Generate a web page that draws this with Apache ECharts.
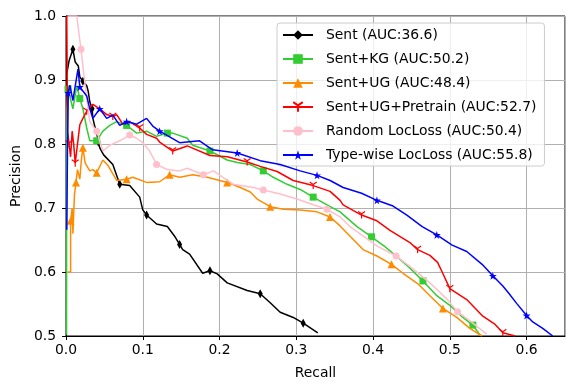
<!DOCTYPE html>
<html>
<head>
<meta charset="utf-8">
<script src="https://cdn.jsdelivr.net/npm/echarts@6/dist/echarts.min.js"></script>
<style>
  html, body { margin: 0; padding: 0; background: #fff; }
  #chart { width: 566px; height: 385px; }
</style>
</head>
<body>
<div id="chart"></div>
<script>
// [recall, precision]
const sent = [
  [0.001, 0.91], [0.004, 0.93], [0.009, 0.948], [0.012, 0.928], [0.016, 0.922],
  [0.018, 0.905], [0.022, 0.898], [0.027, 0.891], [0.029, 0.882], [0.031, 0.866],
  [0.034, 0.855], [0.035, 0.84], [0.038, 0.825], [0.04, 0.818], [0.042, 0.803],
  [0.044, 0.794], [0.049, 0.783], [0.061, 0.768], [0.07, 0.737], [0.083, 0.735],
  [0.096, 0.717], [0.1, 0.697], [0.105, 0.689], [0.118, 0.675], [0.132, 0.671],
  [0.142, 0.655], [0.148, 0.643], [0.152, 0.635], [0.161, 0.628], [0.178, 0.598],
  [0.1875, 0.602], [0.197, 0.597], [0.21, 0.583], [0.236, 0.571], [0.253, 0.566],
  [0.266, 0.552], [0.279, 0.537], [0.296, 0.529], [0.309, 0.52], [0.328, 0.505]
]
const sentKg = [
  [0.0007, 0.502], [0.001, 0.855], [0.0026, 0.886], [0.005, 0.886], [0.009, 0.855],
  [0.014, 0.891], [0.018, 0.871], [0.022, 0.855], [0.027, 0.825], [0.031, 0.805],
  [0.04, 0.805], [0.048, 0.82], [0.057, 0.829], [0.066, 0.835], [0.079, 0.829],
  [0.092, 0.817], [0.105, 0.82], [0.118, 0.812], [0.132, 0.817], [0.139, 0.817],
  [0.158, 0.809], [0.165, 0.798], [0.1875, 0.789], [0.21, 0.775], [0.223, 0.771],
  [0.24, 0.768], [0.257, 0.758], [0.27, 0.748], [0.288, 0.737], [0.305, 0.729],
  [0.322, 0.717], [0.34, 0.705], [0.357, 0.694], [0.379, 0.671], [0.398, 0.655],
  [0.415, 0.64], [0.432, 0.623], [0.448, 0.606], [0.465, 0.586], [0.483, 0.563],
  [0.5, 0.548], [0.517, 0.529], [0.53, 0.517], [0.539, 0.502]
]
const sentUg = [
  [0.002, 0.6], [0.006, 0.6], [0.006, 0.68], [0.008, 0.7], [0.009, 0.66],
  [0.011, 0.72], [0.013, 0.74], [0.015, 0.76], [0.018, 0.745], [0.02, 0.775],
  [0.022, 0.794], [0.025, 0.77], [0.031, 0.758], [0.035, 0.76], [0.04, 0.755],
  [0.048, 0.775], [0.055, 0.766], [0.066, 0.743], [0.079, 0.745], [0.087, 0.748],
  [0.105, 0.74], [0.122, 0.741], [0.135, 0.752], [0.148, 0.748], [0.165, 0.752],
  [0.184, 0.748], [0.21, 0.74], [0.227, 0.732], [0.24, 0.725], [0.249, 0.714],
  [0.266, 0.702], [0.283, 0.698], [0.305, 0.697], [0.327, 0.694], [0.344, 0.686],
  [0.357, 0.672], [0.387, 0.635], [0.405, 0.625], [0.424, 0.612], [0.439, 0.598],
  [0.458, 0.582], [0.474, 0.563], [0.491, 0.543], [0.509, 0.529], [0.526, 0.512],
  [0.542, 0.5]
]
const sentUgPretrain = [
  [0.001, 1.0], [0.002, 0.82], [0.004, 0.8], [0.006, 0.78], [0.008, 0.82],
  [0.01, 0.8], [0.012, 0.77], [0.015, 0.8], [0.018, 0.83], [0.022, 0.84],
  [0.027, 0.851], [0.035, 0.862], [0.044, 0.855], [0.053, 0.846], [0.061, 0.843],
  [0.066, 0.846], [0.074, 0.831], [0.083, 0.835], [0.096, 0.825], [0.105, 0.815],
  [0.118, 0.809], [0.122, 0.803], [0.139, 0.789], [0.158, 0.797], [0.1875, 0.782],
  [0.21, 0.78], [0.236, 0.772], [0.253, 0.765], [0.275, 0.757], [0.296, 0.743],
  [0.322, 0.735], [0.344, 0.726], [0.357, 0.712], [0.361, 0.705], [0.385, 0.689],
  [0.405, 0.68], [0.422, 0.665], [0.448, 0.646], [0.458, 0.635], [0.474, 0.626],
  [0.484, 0.615], [0.49, 0.6], [0.5, 0.574], [0.522, 0.557], [0.543, 0.531],
  [0.559, 0.518], [0.569, 0.505], [0.585, 0.5]
]
const randomLoc = [
  [0.003, 1.0], [0.014, 1.0], [0.0195, 0.948], [0.021, 0.932], [0.027, 0.871],
  [0.031, 0.835], [0.04, 0.82], [0.048, 0.789], [0.057, 0.798], [0.07, 0.805],
  [0.083, 0.814], [0.092, 0.809], [0.1, 0.802], [0.109, 0.789], [0.118, 0.768],
  [0.132, 0.76], [0.148, 0.758], [0.158, 0.762], [0.179, 0.752], [0.192, 0.758],
  [0.218, 0.737], [0.244, 0.732], [0.257, 0.728], [0.279, 0.722], [0.301, 0.714],
  [0.322, 0.705], [0.34, 0.698], [0.357, 0.686], [0.37, 0.671], [0.406, 0.64],
  [0.43, 0.625], [0.452, 0.605], [0.474, 0.583], [0.496, 0.558], [0.51, 0.538],
  [0.53, 0.52], [0.548, 0.503]
]
const typeWiseLoc = [
  [0.001, 0.666], [0.002, 0.8], [0.003, 0.88], [0.005, 0.892], [0.009, 0.868],
  [0.0156, 0.917], [0.018, 0.889], [0.027, 0.875], [0.031, 0.855], [0.035, 0.84],
  [0.044, 0.855], [0.053, 0.84], [0.061, 0.845], [0.07, 0.829], [0.079, 0.835],
  [0.092, 0.831], [0.105, 0.84], [0.113, 0.828], [0.122, 0.82], [0.148, 0.802],
  [0.174, 0.805], [0.191, 0.791], [0.223, 0.786], [0.253, 0.774], [0.279, 0.768],
  [0.305, 0.758], [0.327, 0.751], [0.344, 0.743], [0.361, 0.732], [0.385, 0.723],
  [0.405, 0.712], [0.426, 0.703], [0.444, 0.689], [0.464, 0.671], [0.483, 0.658],
  [0.503, 0.642], [0.522, 0.632], [0.542, 0.612], [0.556, 0.594], [0.569, 0.578],
  [0.576, 0.568], [0.587, 0.551], [0.6, 0.532], [0.608, 0.522], [0.621, 0.512],
  [0.634, 0.5]
]

const names = [
  'Sent (AUC:36.6)',
  'Sent+KG (AUC:50.2)',
  'Sent+UG (AUC:48.4)',
  'Sent+UG+Pretrain (AUC:52.7)',
  'Random LocLoss (AUC:50.4)',
  'Type-wise LocLoss (AUC:55.8)'
]
const colors = ['#000000', '#32cd32', '#ff8c00', '#ff0000', '#ffc0cb', '#0000ff']

const star = 'path://M50,0 L61,35 L98,35 L68,57 L79,91 L50,70 L21,91 L32,57 L2,35 L39,35 Z'
const triDown = 'path://M5,5 L5,11 M5,5 L0,2 M5,5 L10,2'
const markers = [
  { symbol: 'diamond', size: [5, 9] },
  { symbol: 'rect', size: 7 },
  { symbol: 'triangle', size: 8 },
  { symbol: triDown, size: 7 },
  { symbol: 'circle', size: 7 },
  { symbol: star, size: 8 }
]
const allData = [sent, sentKg, sentUg, sentUgPretrain, randomLoc, typeWiseLoc]

const font = 'DejaVu Sans'
const chart = echarts.init(document.getElementById('chart'))

const series = allData.map((data, i) => ({
  name: names[i],
  type: 'line',
  data: data,
  showSymbol: true,
  showAllSymbol: true,
  symbol: markers[i].symbol,
  symbolSize: (val, params) =>
    params && params.dataIndex !== undefined && params.dataIndex % 4 !== 2 ? 0 : markers[i].size,
  lineStyle: { color: colors[i], width: 1.5 },
  itemStyle: {
    color: colors[i],
    borderColor: colors[i],
    borderWidth: i === 3 ? 1.2 : 0
  },
  z: 2 + i
}))

chart.setOption({
  animation: false,
  grid: {
    left: 66, right: 1, top: 16, bottom: 44,
    show: true, borderColor: '#000', borderWidth: 1
  },
  legend: {
    orient: 'vertical',
    left: 277, top: 23,
    padding: [5, 8, 4, 5],
    itemWidth: 30, itemHeight: 12, itemGap: 10,
    backgroundColor: 'rgba(255,255,255,0.8)',
    borderColor: '#cccccc', borderWidth: 1, borderRadius: 3,
    textStyle: { fontFamily: font, fontSize: 13.9, color: '#000', padding: [0, 0, 0, 8] },
    data: names
  },
  xAxis: {
    type: 'value',
    min: 0, max: 0.65, interval: 0.1,
    name: 'Recall',
    nameLocation: 'middle',
    nameGap: 30,
    nameTextStyle: { fontFamily: font, fontSize: 13.9, color: '#000' },
    axisLine: { lineStyle: { color: '#000', width: 1 } },
    axisTick: { show: true, inside: false, length: 4, lineStyle: { color: '#000' } },
    axisLabel: {
      fontFamily: font, fontSize: 13.9, color: '#000', margin: 7,
      showMaxLabel: false,
      formatter: (v) => v.toFixed(1)
    },
    splitLine: { show: true, lineStyle: { color: '#b0b0b0', width: 1 } }
  },
  yAxis: {
    type: 'value',
    min: 0.5, max: 1.0, interval: 0.1,
    name: 'Precision',
    nameLocation: 'middle',
    nameGap: 42,
    nameTextStyle: { fontFamily: font, fontSize: 13.9, color: '#000' },
    axisLine: { show: true, lineStyle: { color: '#000', width: 1 } },
    axisTick: { show: true, inside: false, length: 4, lineStyle: { color: '#000' } },
    axisLabel: {
      fontFamily: font, fontSize: 13.9, color: '#000', margin: 10,
      formatter: (v) => v.toFixed(1)
    },
    splitLine: { show: true, lineStyle: { color: '#b0b0b0', width: 1 } }
  },
  series: series
})
</script>
</body>
</html>
